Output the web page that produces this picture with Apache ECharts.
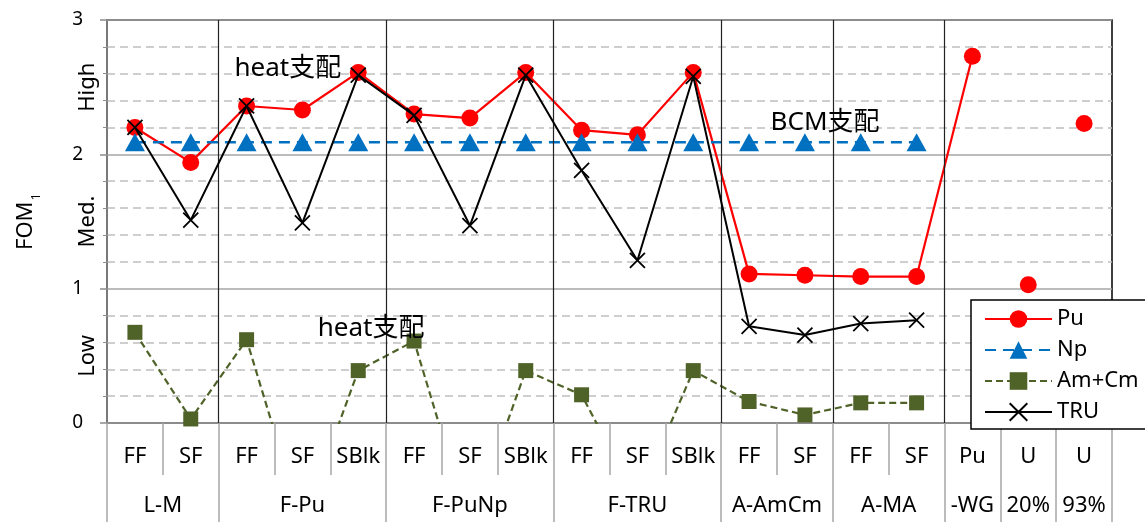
<!DOCTYPE html>
<html>
<head>
<meta charset="utf-8">
<script src="https://cdn.jsdelivr.net/npm/echarts@6/dist/echarts.min.js"></script>
<style>html,body{margin:0;padding:0;background:#fff}#c{width:1145px;height:522px}</style>
</head>
<body>
<div id="c"></div>
<script>
// ---- data ----
const categories = ['FF','SF','FF','SF','SBlk','FF','SF','SBlk','FF','SF','SBlk','FF','SF','FF','SF','Pu','U','U'];
const groupNames = ['L-M','F-Pu','F-PuNp','F-TRU','A-AmCm','A-MA','-WG','20%','93%'];
const groupSizes = [2,3,3,3,2,2,1,1,1];
const plotDividers = [2,5,8,11,13,15];
const levelLabels = ['Low','Med.','High'];
const levelPositions = [0.5,1.5,2.5];
const puValues   = [2.20,1.94,2.36,2.33,2.61,2.30,2.27,2.61,2.18,2.145,2.61,1.11,1.10,1.09,1.09,2.73,1.03,2.23];
const puLinkedCount = 16;
const npValues   = [2.09,2.09,2.09,2.09,2.09,2.09,2.09,2.09,2.09,2.09,2.09,2.09,2.09,2.09,2.09,null,null,null];
const amcmValues = [0.675,0.03,0.62,-0.75,0.39,0.61,-0.77,0.39,0.21,-0.58,0.39,0.16,0.06,0.15,0.15,null,null,null];
const truValues  = [2.20,1.51,2.36,1.49,2.59,2.29,1.47,2.59,1.88,1.21,2.58,0.72,0.655,0.74,0.765,null,null,null];
const annotations = [
  {text:'heat支配', x:3.24, y:2.64},
  {text:'heat支配', x:4.73, y:0.70},
  {text:'BCM支配', x:12.86, y:2.235}
];

// ---- derived ----
const groupBounds = [0];
groupSizes.forEach(s => groupBounds.push(groupBounds[groupBounds.length-1] + s));
const groupCenters = groupSizes.map((s,i) => groupBounds[i] + s/2);
const FONT = "'Noto Sans','Noto Sans CJK JP',sans-serif";
const GRAY = '#a6a6a6';

const puLine = puValues.map((v,i) => i < puLinkedCount ? v : null);
const puLoose = puValues.map((v,i) => i >= puLinkedCount ? [i, v] : null).filter(d => d);

const chart = echarts.init(document.getElementById('c'), null, {renderer:'canvas'});
chart.setOption({
  animation: false,
  textStyle: {fontFamily: FONT, color:'#000'},
  grid: {left:107, right:33, top:20, bottom:99, show:true, borderColor:'#000', borderWidth:1.5, backgroundColor:'transparent'},
  legend: {
    data: ['Pu','Np','Am+Cm','TRU'],
    orient: 'vertical', left: 971, top: 300,
    itemWidth: 67, itemHeight: 22, itemGap: 9,
    padding: [8, 20, 6, 13],
    backgroundColor: '#fff', borderColor: '#000', borderWidth: 1.5,
    textStyle: {fontSize: 22, fontFamily: FONT, color:'#000'}
  },
  xAxis: [
    {
      type: 'category', data: categories, position: 'bottom', boundaryGap: true,
      axisLine: {show:true, lineStyle:{color:'#8c8c8c', width:2}},
      axisTick: {show:true, interval:0, length:52, lineStyle:{color:GRAY, width:1.5}},
      axisLabel: {interval:0, fontSize:22, margin:23, color:'#000', fontFamily: FONT},
      splitLine: {show:false}
    },
    {
      type: 'value', min: 0, max: 18, position: 'bottom',
      axisLine: {show:false},
      axisTick: {show:true, customValues: groupBounds, length:99, lineStyle:{color:GRAY, width:1.5}},
      axisLabel: {show:true, customValues: groupCenters, fontSize:22, margin:72, color:'#000', fontFamily: FONT,
        formatter: v => { const i = groupCenters.indexOf(v); return i >= 0 ? groupNames[i] : ''; }},
      splitLine: {show:false}
    }
  ],
  yAxis: [
    {
      type: 'value', min: 0, max: 3, interval: 1,
      name: '{a|FOM}{b|1}', nameLocation: 'middle', nameGap: 70, nameRotate: 90,
      nameTextStyle: {fontSize: 22, fontFamily: FONT, color:'#000',
        rich: {a:{fontSize:22, fontFamily:FONT, color:'#000'}, b:{fontSize:13, fontFamily:FONT, color:'#000', verticalAlign:'bottom', padding:[0,0,-6,1]}}},
      axisLine: {show:true, lineStyle:{color:'#8c8c8c', width:1.5}},
      axisTick: {show:true, length:7, lineStyle:{color:'#8c8c8c', width:1.5}},
      minorTick: {show:true, splitNumber:5, length:4, lineStyle:{color:'#8c8c8c', width:1}},
      axisLabel: {fontSize:19, margin:24, color:'#000', fontFamily: FONT},
      splitLine: {show:true, lineStyle:{color:GRAY, width:1.5}},
      minorSplitLine: {show:true, lineStyle:{color:'#bfbfbf', width:1.5, type:[8,5]}}
    },
    {
      type: 'value', min: 0, max: 3, position: 'left',
      axisLine: {show:false}, axisTick: {show:false}, splitLine: {show:false},
      axisLabel: {show:true, customValues: levelPositions, rotate: 90, margin: 8, fontSize:22, color:'#000', fontFamily: FONT,
        formatter: v => { const i = levelPositions.indexOf(v); return i >= 0 ? levelLabels[i] : ''; }}
    }
  ],
  series: [
    {
      name: 'dividers', type: 'line', xAxisIndex: 1, yAxisIndex: 0, data: [], silent: true,
      markLine: {silent:true, symbol:['none','none'], label:{show:false},
        lineStyle:{color:'#222', width:1.2, type:'solid'},
        data: plotDividers.map(x => ({xAxis: x}))}
    },
    {
      name: 'Pu', type: 'line', data: puLine, connectNulls: false,
      symbol: 'circle', symbolSize: 17,
      itemStyle: {color:'#ff0000', opacity:1}, lineStyle: {color:'#ff0000', width:2.2}, z: 3
    },
    {
      name: 'Pu-U', type: 'scatter', data: puLoose,
      symbol: 'circle', symbolSize: 17, itemStyle: {color:'#ff0000', opacity:1}, z: 3
    },
    {
      name: 'Np', type: 'line', data: npValues,
      symbol: 'triangle', symbolSize: [20,18],
      itemStyle: {color:'#0070c0', opacity:1}, lineStyle: {color:'#0070c0', width:2.5, type:[11,7]}, z: 4
    },
    {
      name: 'Am+Cm', type: 'line', data: amcmValues,
      symbol: 'rect', symbolSize: 15,
      itemStyle: {color:'#4f6228', opacity:1}, lineStyle: {color:'#4f6228', width:2.2, type:[7,4]}, z: 4
    },
    {
      name: 'TRU', type: 'line', data: truValues,
      symbol: 'path://M0,0L10,10M10,0L0,10', symbolSize: 15,
      itemStyle: {color:'#000', borderColor:'#000', borderWidth:1.8, opacity:1},
      lineStyle: {color:'#000', width:2}, z: 5
    },
    {
      name: 'notes', type: 'scatter', xAxisIndex: 1, yAxisIndex: 0, silent: true,
      symbolSize: 0, itemStyle: {opacity: 1},
      data: annotations.map(a => ({name: a.text, value: [a.x, a.y]})),
      label: {show:true, position:'inside', formatter: p => p.name, fontSize:26, color:'#000', opacity:1, fontFamily: FONT},
      z: 6
    }
  ]
});
</script>
</body>
</html>
